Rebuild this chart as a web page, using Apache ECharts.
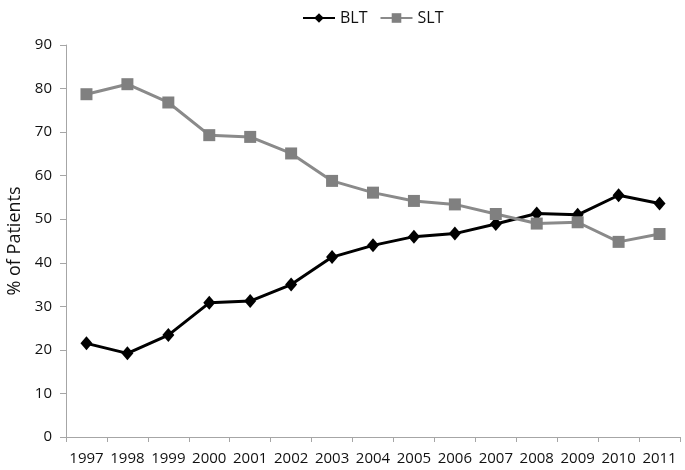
<!DOCTYPE html>
<html>
<head>
<meta charset="utf-8">
<script src="https://cdn.jsdelivr.net/npm/echarts@6/dist/echarts.min.js"></script>
<style>
html,body{margin:0;padding:0;background:#fff;}
#chart{width:685px;height:470px;}
</style>
</head>
<body>
<div id="chart"></div>
<script>
const years = ['1997','1998','1999','2000','2001','2002','2003','2004','2005','2006','2007','2008','2009','2010','2011'];
const bltValues = [21.5, 19.2, 23.4, 30.8, 31.2, 35.0, 41.3, 44.0, 46.0, 46.7, 48.9, 51.3, 51.0, 55.5, 53.6];
const sltValues = [78.7, 81.0, 76.8, 69.3, 68.9, 65.1, 58.8, 56.1, 54.2, 53.4, 51.2, 49.0, 49.3, 44.8, 46.6];
const yTicks = { min: 0, max: 90, interval: 10 };

const font = '"Open Sans", "Noto Sans", sans-serif';
const chart = echarts.init(document.getElementById('chart'));
chart.setOption({
  backgroundColor: '#fff',
  animation: false,
  textStyle: { fontFamily: font },
  legend: {
    top: 5,
    left: 297,
    itemWidth: 32,
    itemHeight: 12,
    itemGap: 12,
    textStyle: { fontFamily: font, fontSize: 16, color: '#111' },
    data: ['BLT', 'SLT']
  },
  grid: { left: 66, right: 5, top: 45, bottom: 33, containLabel: false, outerBoundsMode: 'none' },
  xAxis: {
    type: 'category',
    data: years,
    boundaryGap: true,
    axisLine: { lineStyle: { color: '#a6a6a6', width: 1 } },
    axisTick: { show: true, length: 5, lineStyle: { color: '#a6a6a6' } },
    axisLabel: { fontFamily: font, fontSize: 15, color: '#111', margin: 14, interval: 0 },
    splitLine: { show: false }
  },
  yAxis: {
    type: 'value',
    min: yTicks.min,
    max: yTicks.max,
    interval: yTicks.interval,
    name: '% of Patients',
    nameLocation: 'middle',
    nameGap: 37,
    nameRotate: 90,
    nameTextStyle: { fontFamily: font, fontSize: 18, color: '#111' },
    axisLine: { show: true, lineStyle: { color: '#a6a6a6', width: 1 } },
    axisTick: { show: true, length: 6, lineStyle: { color: '#a6a6a6' } },
    axisLabel: { fontFamily: font, fontSize: 15, color: '#111', margin: 14 },
    splitLine: { show: false }
  },
  series: [
    {
      name: 'BLT',
      type: 'line',
      data: bltValues,
      symbol: 'diamond',
      symbolSize: [12, 14],
      itemStyle: { color: '#000' },
      lineStyle: { color: '#000', width: 3 }
    },
    {
      name: 'SLT',
      type: 'line',
      data: sltValues,
      symbol: 'rect',
      symbolSize: 12,
      itemStyle: { color: '#808080' },
      lineStyle: { color: '#8a8a8a', width: 3 }
    }
  ]
});
</script>
</body>
</html>
